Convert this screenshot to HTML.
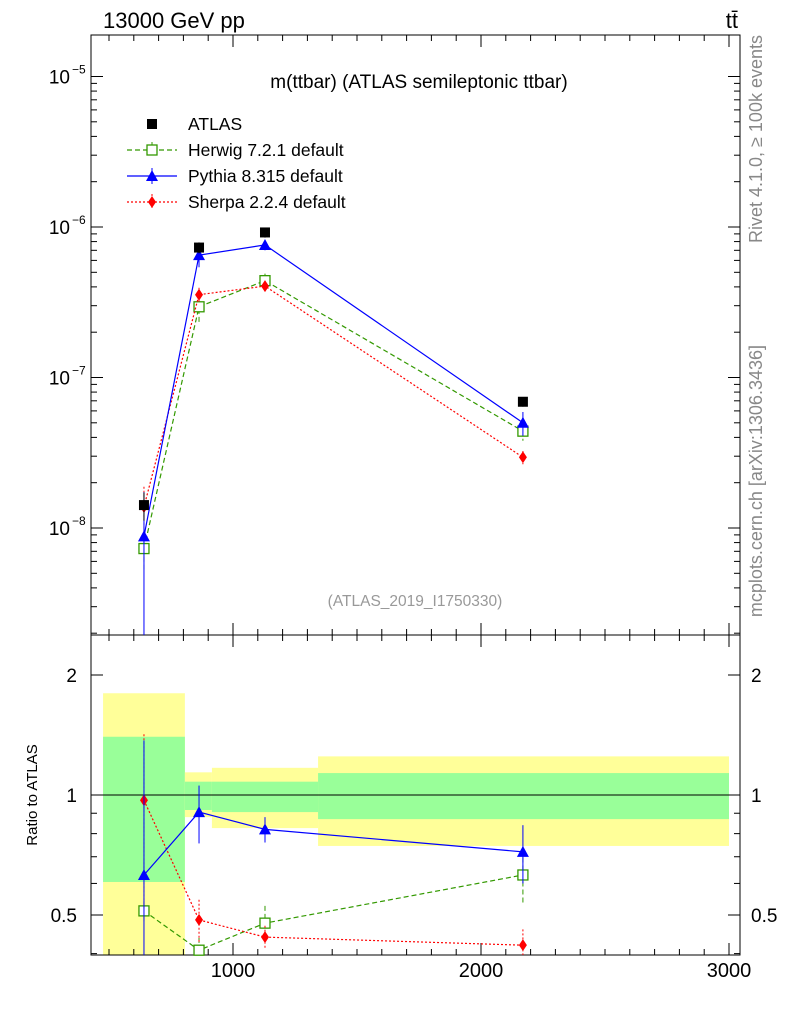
<!DOCTYPE html>
<html><head><meta charset="utf-8"><style>
body{margin:0;background:#fff;}
svg{display:block;font-family:"Liberation Sans",sans-serif;}
</style></head><body>
<svg id="c" width="786" height="1024"></svg>
<script>
const cats=[641,863,1129,2169];
const atlas=[1.42e-8,7.3e-7,9.2e-7,6.9e-8];
const atlasErrLo=[0.3e-8,0.6e-7,0.7e-7,0.5e-8];
const herwig=[7.3e-9,2.95e-7,4.4e-7,4.4e-8];
const herwigErr=[2e-9,0.7e-7,0.5e-7,0.6e-8];
const pythia=[8.8e-9,6.5e-7,7.6e-7,5.0e-8];
const pythiaErr=[8.5e-9,1.1e-7,0.6e-7,0.9e-8];
const sherpa=[1.38e-8,3.55e-7,4.05e-7,2.95e-8];
const sherpaErr=[0.5e-8,0.4e-7,0.3e-7,0.3e-8];
const rHerwig=[0.512,0.408,0.477,0.63];
const rHerwigErr=[0.03,0.03,0.05,0.1];
const rPythia=[0.63,0.906,0.82,0.72];
const rPythiaErr=[0.74,0.15,0.06,0.12];
const rSherpa=[0.97,0.486,0.44,0.42];
const rSherpaErr=[0.45,0.06,0.03,0.04];
const binEdges=[476,806,915,1343,3000];
const bandYelHi=[1.80,1.14,1.17,1.25];
const bandYelLo=[0.3,0.88,0.826,0.745];
const bandGrnHi=[1.40,1.08,1.08,1.135];
const bandGrnLo=[0.605,0.917,0.906,0.87];
const xTicks=[1000,2000,3000];
const yTicksMain=[-8,-7,-6,-5];
const yTicksRatio=[0.5,1,2];

const S=document.getElementById('c');const NS='http://www.w3.org/2000/svg';
function el(t,a,txt){const e=document.createElementNS(NS,t);for(const k in a)e.setAttribute(k,a[k]);if(txt!==undefined)e.textContent=txt;S.appendChild(e);return e;}
const L=91,R=740,T=35,M=635,B=955;
const X=v=>233+(v-1000)*0.248;
const Y=v=>528-(Math.log10(v)+8)*150.5;
const YR=v=>795-Math.log10(Math.max(v,1e-3))*398.6;
function clipR(y){return Math.max(M,Math.min(B,y));}
function clipM(y){return Math.max(T,Math.min(M,y));}

for(let i=0;i<4;i++){
 const y1=clipR(YR(bandYelHi[i])),y2=clipR(YR(bandYelLo[i]));
 let r=el('rect',{x:X(binEdges[i]),y:y1,width:X(binEdges[i+1])-X(binEdges[i]),height:y2-y1,fill:'#ffff99'});
 
 let g=el('rect',{x:X(binEdges[i]),y:YR(bandGrnHi[i]),width:X(binEdges[i+1])-X(binEdges[i]),height:YR(bandGrnLo[i])-YR(bandGrnHi[i]),fill:'#99ff99'});
 
}
el('line',{x1:L,x2:R,y1:YR(1),y2:YR(1),stroke:'#000'});

el('rect',{x:L,y:T,width:R-L,height:M-T,fill:'none',stroke:'#000'});
el('rect',{x:L,y:M,width:R-L,height:B-M,fill:'none',stroke:'#000'});

for(let v=500;v<=3000;v+=100){const x=X(v);if(x<L||x>R)continue;const big=v%1000==0;const l=big?12:6;
 el('line',{x1:x,x2:x,y1:B,y2:B-l,stroke:'#000'});el('line',{x1:x,x2:x,y1:M,y2:M-l,stroke:'#000'});
 el('line',{x1:x,x2:x,y1:M,y2:M+l,stroke:'#000'});el('line',{x1:x,x2:x,y1:T,y2:T+l,stroke:'#000'});}
xTicks.forEach(v=>{const t=el('text',{x:X(v),y:B+22,'font-size':20,'text-anchor':'middle'},v);});

for(let d=-9;d<=-5;d++){for(let m=1;m<10;m++){const v=m*Math.pow(10,d);const y=Y(v);if(y<T||y>M)continue;const l=m==1?12:6;
 el('line',{x1:L,x2:L+l,y1:y,y2:y,stroke:'#000'});el('line',{x1:R,x2:R-l,y1:y,y2:y,stroke:'#000'});}}
yTicksMain.forEach(d=>{const t=el('text',{x:70,y:Y(Math.pow(10,d))+7,'font-size':19,'text-anchor':'end'},'10');
 el('text',{x:72,y:Y(Math.pow(10,d))-3,'font-size':12},String(d).replace('-','−'));});

const rminor=[0.4,0.5,0.6,0.7,0.8,0.9,1,2];
rminor.forEach(v=>{const y=YR(v);if(y<M||y>B)return;const big=(v==0.5||v==1||v==2);const l=big?12:6;
 el('line',{x1:L,x2:L+l,y1:y,y2:y,stroke:'#000'});el('line',{x1:R,x2:R-l,y1:y,y2:y,stroke:'#000'});});
yTicksRatio.forEach(v=>{const y=YR(v)+7;const lab=String(v);
 let t=el('text',{x:77,y:y,'font-size':19,'text-anchor':'end'},lab);
 let t2=el('text',{x:751,y:y,'font-size':19},lab);});

function marker(kind,x,y,col){
 if(kind=='sq'){el('rect',{x:x-5,y:y-5,width:10,height:10,fill:'#000'});}
 else if(kind=='osq'){el('rect',{x:x-5,y:y-5,width:10,height:10,fill:'#fff',stroke:col,'stroke-width':1.3});}
 else if(kind=='tri'){el('path',{d:`M${x},${y-6}L${x+6},${y+5}L${x-6},${y+5}Z`,fill:col});}
 else if(kind=='dia'){el('path',{d:`M${x},${y-6}L${x+4},${y}L${x},${y+6}L${x-4},${y}Z`,fill:col});}
}
function series(name,vals,errs,yf,clip,col,dash,kind){
 const pts=vals.map((v,i)=>[X(cats[i]),yf(v)]);
 if(col){const p=el('polyline',{points:pts.map(p=>p.join(',')).join(' '),fill:'none',stroke:col,'stroke-width':1.2,'stroke-dasharray':dash});
  }
 vals.forEach((v,i)=>{const x=pts[i][0];const y1=clip(yf(v+errs[i])),y2=clip(yf(Math.max(v-errs[i],1e-12)));
  el('line',{x1:x,x2:x,y1:y1,y2:y2,stroke:col||'#000','stroke-dasharray':dash||''});
  const g=el('g',{});
  marker(kind,x,pts[i][1],col);});
}
series('herwig',herwig,herwigErr,Y,clipM,'#339900','5,3','osq');
series('sherpa',sherpa,sherpaErr,Y,clipM,'#ff0000','2,2','dia');
series('pythia',pythia,pythiaErr,Y,clipM,'#0000ff','','tri');
series('atlas',atlas,atlasErrLo,Y,clipM,null,'','sq');
series('herwig-ratio',rHerwig,rHerwigErr,YR,clipR,'#339900','5,3','osq');
series('sherpa-ratio',rSherpa,rSherpaErr,YR,clipR,'#ff0000','2,2','dia');
series('pythia-ratio',rPythia,rPythiaErr,YR,clipR,'#0000ff','','tri');

let t;
t=el('text',{x:103,y:28,'font-size':22},'13000 GeV pp');
t=el('text',{x:738,y:28,'font-size':22,'text-anchor':'end'},'tt̄');
t=el('text',{x:419,y:88,'font-size':19,'text-anchor':'middle'},'m(ttbar) (ATLAS semileptonic ttbar)');
t=el('text',{x:415,y:606,'font-size':15.5,'text-anchor':'middle',fill:'#999'},'(ATLAS_2019_I1750330)');
t=el('text',{x:0,y:0,'font-size':15,'text-anchor':'middle',transform:'translate(37,795) rotate(-90)'},'Ratio to ATLAS');
t=el('text',{x:0,y:0,'font-size':18,'text-anchor':'end',fill:'#888',transform:'translate(762,35) rotate(-90)'},'Rivet 4.1.0, ≥ 100k events');
t=el('text',{x:0,y:0,'font-size':18,'text-anchor':'end',fill:'#888',transform:'translate(762,345) rotate(-90)'},'mcplots.cern.ch [arXiv:1306.3436]');

const lg=[['ATLAS',null,'','sq'],['Herwig 7.2.1 default','#339900','5,3','osq'],['Pythia 8.315 default','#0000ff','','tri'],['Sherpa 2.2.4 default','#ff0000','2,2','dia']];
lg.forEach((e,i)=>{const y=124+i*26;
 if(e[1]){el('line',{x1:127,x2:177,y1:y,y2:y,stroke:e[1],'stroke-dasharray':e[2],'stroke-width':1.2});el('line',{x1:152,x2:152,y1:y-8,y2:y+8,stroke:e[1],'stroke-dasharray':e[2]});}
 marker(e[3],152,y,e[1]);
 const tt=el('text',{x:188,y:y+6,'font-size':17.5},e[0]);});
</script>
</body></html>
